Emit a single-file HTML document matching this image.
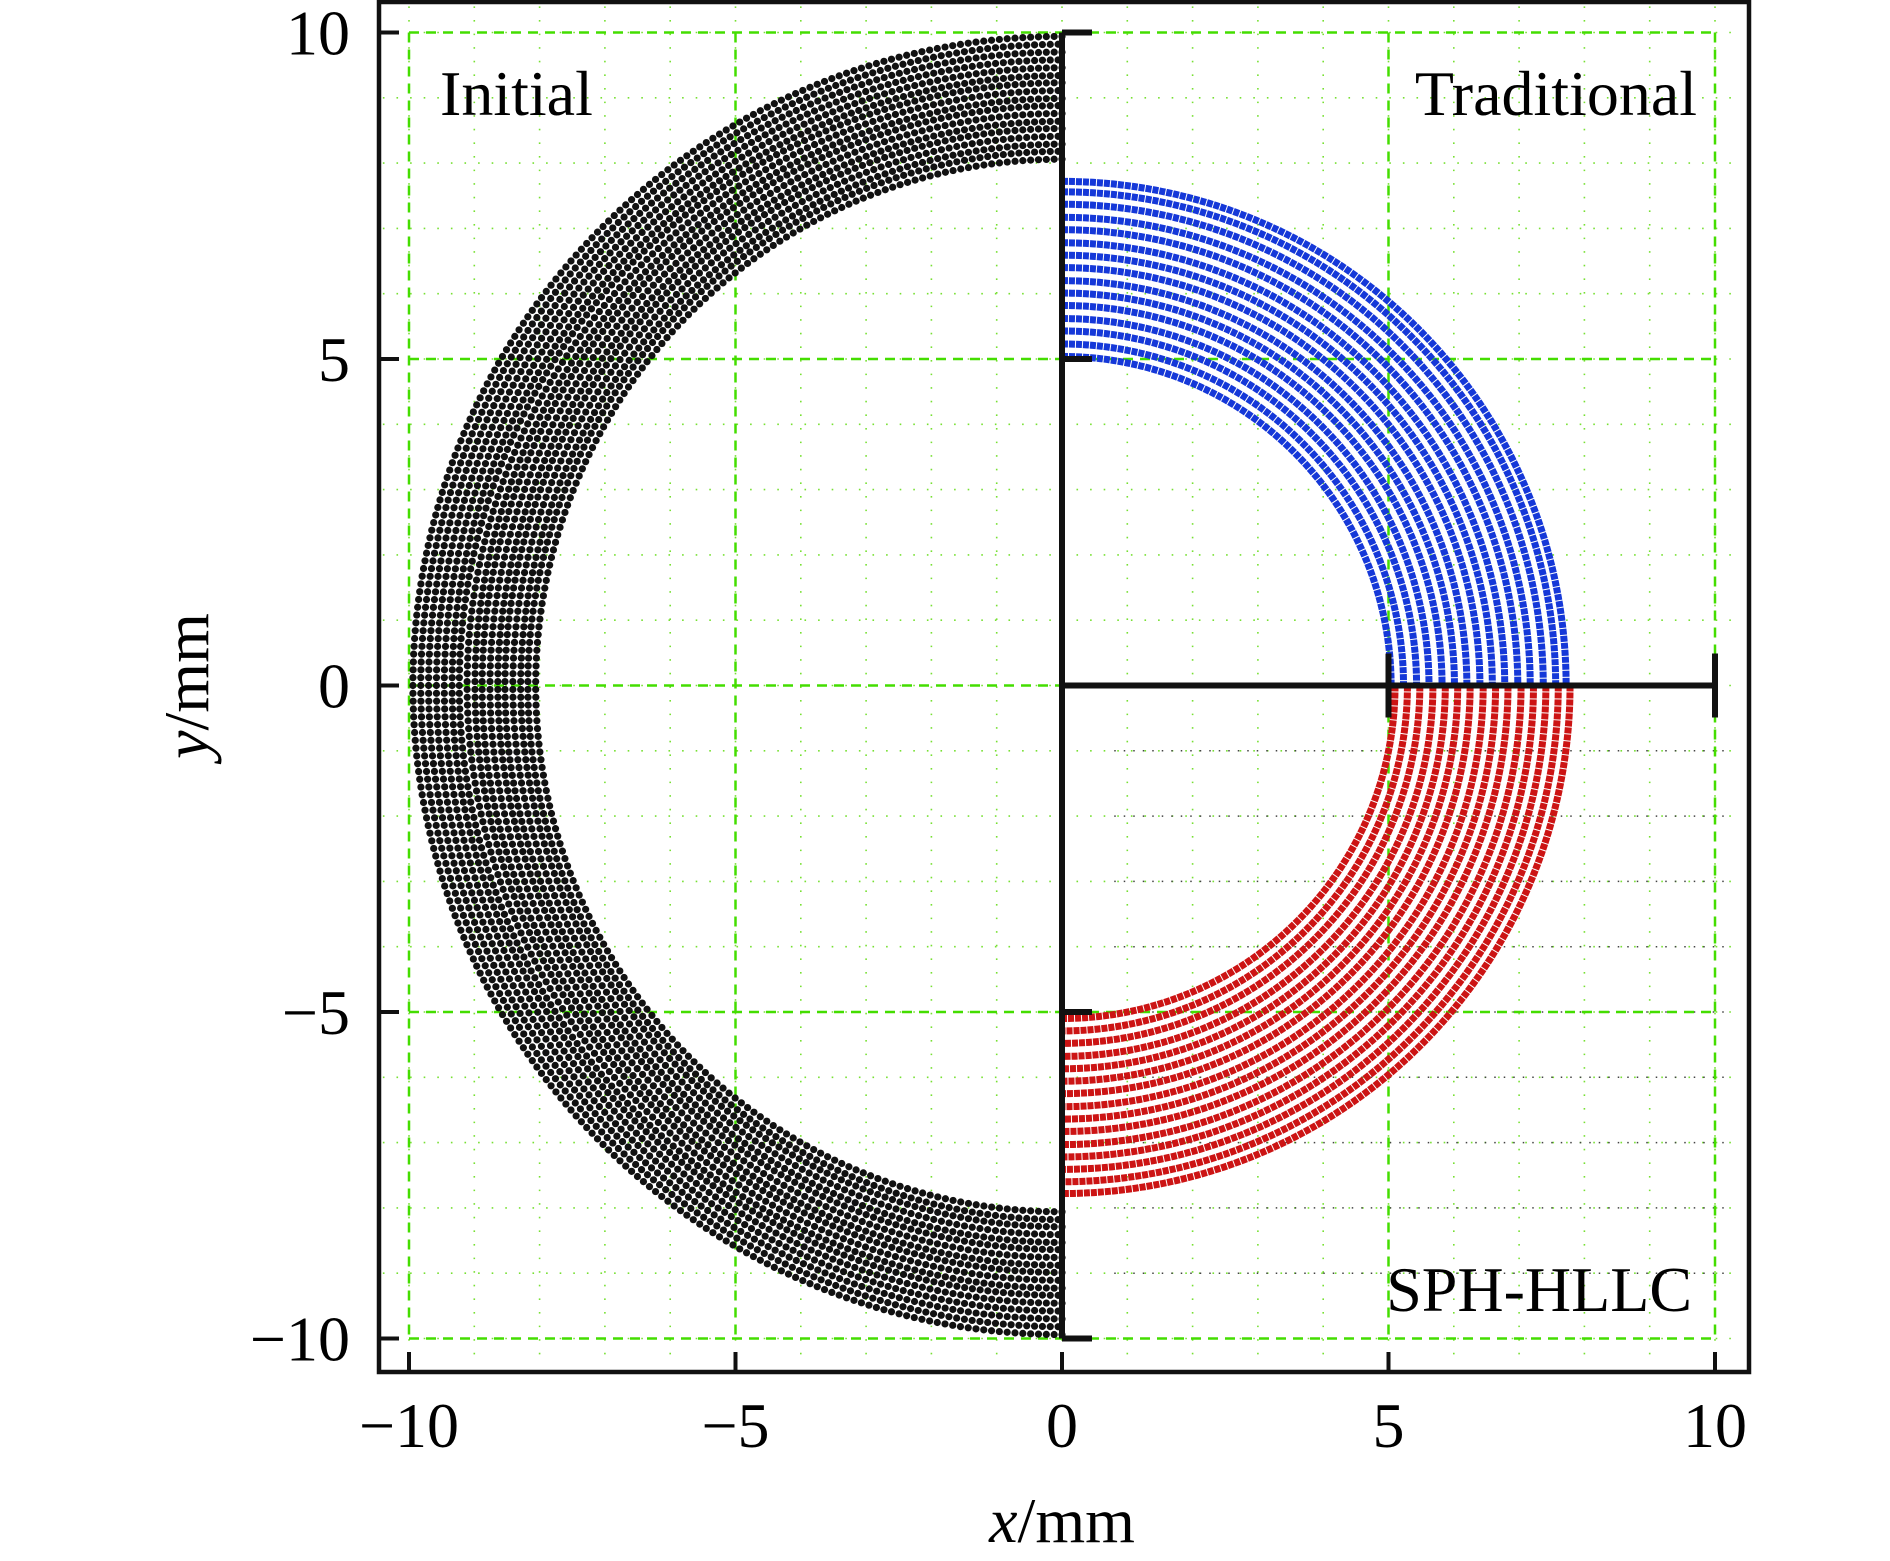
<!DOCTYPE html>
<html><head><meta charset="utf-8">
<style>
html,body{margin:0;padding:0;background:#fff;}
svg{display:block;}
text{font-family:"Liberation Serif",serif;fill:#000;}
</style></head>
<body>
<svg id="chart" width="1890" height="1561" viewBox="0 0 1890 1561" xmlns="http://www.w3.org/2000/svg">
<g id="grid"></g>
<g id="marks"></g>
<g id="axes"></g>
<text x="440" y="115" font-size="64">Initial</text>
<text x="1697" y="115" font-size="64" text-anchor="end">Traditional</text>
<text x="1692" y="1311" font-size="64" text-anchor="end">SPH-HLLC</text>
<text x="1062" y="1542" font-size="64" text-anchor="middle"><tspan font-style="italic">x</tspan>/mm</text>
<text transform="translate(208,686) rotate(-90)" font-size="64" text-anchor="middle"><tspan font-style="italic">y</tspan>/mm</text>
</svg>
<script>
const xTicks = [-10, -5, 0, 5, 10];
const yTicks = [-10, -5, 0, 5, 10];
const xTickLabels = ["\u221210", "\u22125", "0", "5", "10"];
const yTickLabels = ["\u221210", "\u22125", "0", "5", "10"];
const minorTicks = [-10,-9,-8,-7,-6,-5,-4,-3,-2,-1,0,1,2,3,4,5,6,7,8,9,10];
const initialRadii = [8.06,8.18,8.29,8.41,8.53,8.64,8.76,8.88,8.99,9.11,9.23,9.34,9.46,9.58,9.70,9.82,9.94];
const blueRadii = [5.04,5.23,5.43,5.62,5.82,6.01,6.20,6.40,6.59,6.78,6.98,7.17,7.37,7.56,7.72];
const redRadii = [5.10,5.29,5.48,5.68,5.87,6.06,6.25,6.45,6.64,6.83,7.03,7.22,7.41,7.60,7.78];

const X0 = 1062, Y0 = 685.5, S = 65.3;
const sx = v => X0 + v * S;
const sy = v => Y0 - v * S;
const NS = "http://www.w3.org/2000/svg";
function mk(tag, attrs, parent) {
  const e = document.createElementNS(NS, tag);
  for (const k in attrs) e.setAttribute(k, attrs[k]);
  parent.appendChild(e);
  return e;
}
const grid = document.getElementById('grid');
const marks = document.getElementById('marks');
const axes = document.getElementById('axes');

minorTicks.forEach(t => {
  let l = mk('line', {x1: sx(t), x2: sx(t), y1: sy(10.4), y2: sy(-10.4), stroke: '#77e033', 'stroke-width': 1.6, 'stroke-dasharray': '1.6 12'}, grid);
  
  
  let h = mk('line', {x1: sx(-10.4), x2: sx(10.4), y1: sy(t), y2: sy(t), stroke: '#77e033', 'stroke-width': 1.6, 'stroke-dasharray': '1.6 12'}, grid);
  
  
});
[-1,-2,-3,-4,-5,-6,-7,-8,-9].forEach(t => {
  let h = mk('line', {x1: sx(0.8), x2: sx(10.2), y1: sy(t), y2: sy(t), stroke: '#444', 'stroke-width': 1.5, 'stroke-dasharray': '1.5 8'}, grid);
  
  
});
xTicks.forEach(t => {
  let l = mk('line', {x1: sx(t), x2: sx(t), y1: sy(10), y2: sy(-10), stroke: '#44dd00', 'stroke-width': 2.5, 'stroke-dasharray': '10 7'}, grid);
  
  
});
yTicks.forEach(t => {
  let l = mk('line', {x1: sx(-10), x2: sx(10), y1: sy(t), y2: sy(t), stroke: '#44dd00', 'stroke-width': 2.5, 'stroke-dasharray': '10 7'}, grid);
  
  
});

initialRadii.forEach((r, i) => {
  const n = Math.round(Math.PI * r / 0.12);
  const off = (i % 2) * 0.5;
  for (let k = 0; k <= n; k++) {
    const a = Math.PI / 2 + Math.PI * (k + off) / n;
    if (a > 1.5 * Math.PI + 1e-6) continue;
    const c = mk('circle', {cx: sx(r * Math.cos(a)), cy: sy(r * Math.sin(a)), r: 3.6, fill: '#111'}, marks);
    
    
  }
});
function arc(r, upper, color, name) {
  const x1 = sx(0), y1 = sy(upper ? r : -r), x2 = sx(r), y2 = sy(0);
  const rp = r * S;
  const d = upper ? `M${x1},${y1} A${rp},${rp} 0 0 1 ${x2},${y2}` : `M${x2},${y2} A${rp},${rp} 0 0 1 ${x1},${y1}`;
  const p = mk('path', {d: d, fill: 'none', stroke: color, 'stroke-width': 7, 'stroke-dasharray': '6 1'}, marks);
  
  
}
blueRadii.forEach(r => arc(r, true, '#1538d8', 'blue-ring'));
redRadii.forEach(r => arc(r, false, '#cc1414', 'red-ring'));

let fr = mk('rect', {x: 379, y: 2, width: 1370, height: 1370, fill: 'none', stroke: '#111', 'stroke-width': 4.5}, axes);


xTicks.forEach((t, i) => {
  let l = mk('line', {x1: sx(t), x2: sx(t), y1: 1372, y2: 1352, stroke: '#111', 'stroke-width': 4}, axes);
  
  
  let tx = mk('text', {x: sx(t), y: 1447, 'font-size': 64, 'text-anchor': 'middle'}, axes);
  tx.textContent = xTickLabels[i];
  
  
});
yTicks.forEach((t, i) => {
  let l = mk('line', {x1: 379, x2: 399, y1: sy(t), y2: sy(t), stroke: '#111', 'stroke-width': 4}, axes);
  
  
  let tx = mk('text', {x: 350, y: sy(t) + 22, 'font-size': 64, 'text-anchor': 'end'}, axes);
  tx.textContent = yTickLabels[i];
  
  
});
let va = mk('line', {x1: sx(0), x2: sx(0), y1: sy(10), y2: sy(-10), stroke: '#111', 'stroke-width': 6}, axes);


[10, 5, -5, -10].forEach(t => {
  let l = mk('line', {x1: sx(0), x2: sx(0) + 30, y1: sy(t), y2: sy(t), stroke: '#111', 'stroke-width': 6}, axes);
  
  
});
let ha = mk('line', {x1: sx(0), x2: sx(10), y1: sy(0), y2: sy(0), stroke: '#111', 'stroke-width': 6}, axes);


[5, 10].forEach(t => {
  let l = mk('line', {x1: sx(t), x2: sx(t), y1: sy(0) - 32, y2: sy(0) + 32, stroke: '#111', 'stroke-width': 6}, axes);
  
  
});
</script>
</body></html>
